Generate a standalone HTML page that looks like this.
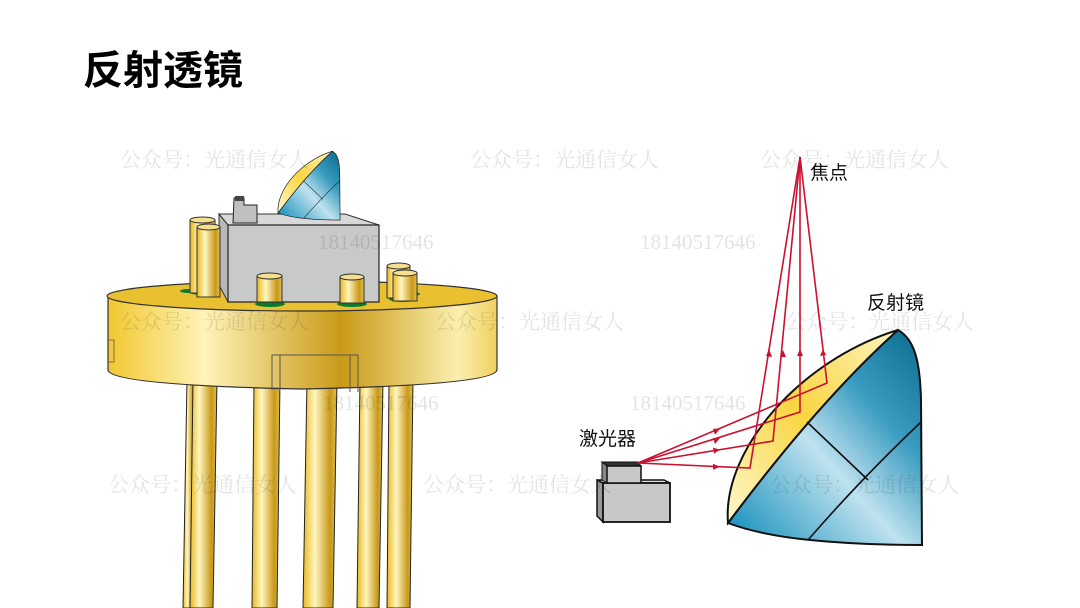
<!DOCTYPE html>
<html><head><meta charset="utf-8"><style>
html,body{margin:0;padding:0;background:#fff;width:1080px;height:608px;overflow:hidden}
svg{display:block}
.wm{font-family:"Liberation Serif","Noto Serif CJK SC",serif;font-size:21px;fill:#000;fill-opacity:0.11}
.lb{font-family:"Liberation Sans","Noto Sans CJK SC",sans-serif;font-size:19px;fill:#111}
</style></head><body>
<svg width="1080" height="608" viewBox="0 0 1080 608" xmlns="http://www.w3.org/2000/svg">
<defs>
<linearGradient id="gold" x1="0" x2="1" y1="0" y2="0">
<stop offset="0" stop-color="#f2c830"/><stop offset="0.25" stop-color="#fff3b8"/><stop offset="0.6" stop-color="#c99a18"/><stop offset="0.9" stop-color="#fbefae"/><stop offset="1" stop-color="#f0d060"/>
</linearGradient>
<linearGradient id="pin" x1="0" x2="1" y1="0" y2="0">
<stop offset="0" stop-color="#e8b820"/><stop offset="0.35" stop-color="#fff6c0"/><stop offset="0.8" stop-color="#c89818"/><stop offset="1" stop-color="#e0c050"/>
</linearGradient>
<linearGradient id="blue" x1="0" y1="1" x2="1" y2="0">
<stop offset="0" stop-color="#0a8ab8"/><stop offset="0.45" stop-color="#bfe2ef"/><stop offset="0.7" stop-color="#3a9cc0"/><stop offset="1" stop-color="#0a6a8c"/>
</linearGradient>
<linearGradient id="rim" x1="0" y1="1" x2="1" y2="0">
<stop offset="0" stop-color="#fff8d0"/><stop offset="0.5" stop-color="#f8d640"/><stop offset="1" stop-color="#fff4c0"/>
</linearGradient>
<g id="mirror">
<path d="M728,523 Q820,400 898,330 C912,338 920,355 921,400 L922,545 Q860,545 810,540 Q760,535 728,523 Z" fill="url(#blue)" stroke="#111" stroke-width="2"/>
<path d="M728,523 C722,450 800,360 898,330 Q820,400 728,523 Z" fill="url(#rim)" stroke="#111" stroke-width="2"/>
<path d="M807,422 L868,480 M921,422 Q860,480 808,540" fill="none" stroke="#111" stroke-width="1.6"/>
</g>
</defs>

<text x="83" y="84" style="font-family:'Liberation Sans','Noto Sans CJK SC',sans-serif;font-size:40px;font-weight:bold" fill="#000">反射透镜</text>

<g stroke="#222" stroke-width="1">
<path d="M187,380 L195,380 L191,608 L183,608 Z" fill="url(#pin)"/>
<path d="M193,380 L217,380 L213,608 L190,608 Z" fill="url(#pin)"/>
<path d="M254,380 L280,380 L277,608 L252,608 Z" fill="url(#pin)"/>
<path d="M307,380 L337,380 L333,608 L303,608 Z" fill="url(#pin)"/>
<path d="M360,380 L383,380 L379,608 L357,608 Z" fill="url(#pin)"/>
<path d="M389,380 L413,380 L410,608 L387,608 Z" fill="url(#pin)"/>
</g>
<path d="M108,297 L108,370 Q110,385 302,389 Q494,385 497,370 L497,297 Z" fill="url(#gold)" stroke="#333" stroke-width="1.2"/>
<ellipse cx="302" cy="296" rx="195" ry="15" fill="#e8c030" stroke="#333" stroke-width="1.2"/>
<path d="M108,340 L114,340 L114,362 L108,362" fill="none" stroke="#555" stroke-width="0.8"/>
<path d="M272,390 L272,355 L358,355 L358,392 M280,355 L280,390 M350,355 L350,392" fill="none" stroke="#555" stroke-width="1"/>
<g fill="#0a7a30">
<ellipse cx="203" cy="292" rx="14" ry="3"/><ellipse cx="270" cy="304" rx="15" ry="3"/><ellipse cx="352" cy="304" rx="15" ry="3"/><ellipse cx="403" cy="299" rx="14" ry="3"/><ellipse cx="188" cy="291" rx="8" ry="2"/><ellipse cx="412" cy="294" rx="8" ry="2"/>
</g>
<g stroke="#333" stroke-width="1">
<rect x="190" y="220" width="25" height="73" fill="url(#pin)"/><ellipse cx="202.5" cy="220" rx="12.5" ry="3" fill="#f6e090"/>
<rect x="387" y="266" width="23" height="32" fill="url(#pin)"/><ellipse cx="398.5" cy="266" rx="11.5" ry="3" fill="#f6e090"/>
</g>
<path d="M219,214 L228,225 L228,302 L219,285 Z" fill="#b8b8b8" stroke="#333"/>
<path d="M219,214 L345,214 L379,225 L228,225 Z" fill="#d8d8d8" stroke="#333"/>
<rect x="228" y="225" width="151" height="77" fill="#c8c9c9" stroke="#222" stroke-width="1.2"/>
<path d="M234,198 L244,198 L244,205 L257,205 L257,223 L233,223 Z" fill="#c0c0c0" stroke="#222"/>
<rect x="235" y="196" width="9" height="5" fill="#444"/>
<g stroke="#333" stroke-width="1">
<rect x="197" y="227" width="23" height="70" fill="url(#pin)"/><ellipse cx="208.5" cy="227" rx="11.5" ry="3" fill="#f6e090"/>
<rect x="257" y="276" width="25" height="26" fill="url(#pin)"/><ellipse cx="269.5" cy="276" rx="12.5" ry="3" fill="#f6e090"/>
<rect x="340" y="277" width="24" height="26" fill="url(#pin)"/><ellipse cx="352" cy="277" rx="12" ry="3" fill="#f6e090"/>
<rect x="393" y="273" width="24" height="28" fill="url(#pin)"/><ellipse cx="405" cy="273" rx="12" ry="3" fill="#f6e090"/>
</g>
<use href="#mirror" transform="translate(278,213) scale(0.32) translate(-728,-523)"/>

<use href="#mirror"/>

<path d="M597,480 L603,483 L603,522 L597,516 Z" fill="#999" stroke="#111" stroke-width="1.5"/>
<path d="M597,480 L664,480 L670,483 L603,483 Z" fill="#ddd" stroke="#111" stroke-width="1.5"/>
<rect x="603" y="483" width="67" height="39" fill="#c8c8c8" stroke="#111" stroke-width="1.8"/>
<path d="M602,462 L638,462 L641,466 L607,466 Z" fill="#333" stroke="#111"/>
<path d="M602,462 L607,466 L607,483 L602,480 Z" fill="#888" stroke="#111"/>
<rect x="607" y="466" width="34" height="17" fill="#c8c8c8" stroke="#111" stroke-width="1.5"/>

<g stroke="#cc1030" stroke-width="1.6" fill="none">
<polyline points="638,463 750,468 800,157"/>
<polyline points="638,463 773,441 800,157"/>
<polyline points="638,463 800,412 800,157"/>
<polyline points="638,463 827,383 800,157"/>
</g>
<g fill="#cc1030">
<path d="M720,466.7 l-7,-3 l0,6 z"/>
<path d="M720,449.6 l-7,-2 l1,6 z"/>
<path d="M720,423 l-7,0 l2,6 z" transform="translate(0,15)"/>
<path d="M720,429.7 l-7,0 l2,6 z" transform="translate(0,-1)"/>
<path d="M769,349 l-3,7 l6,1 z"/>
<path d="M783,350 l-3,7 l6,0 z"/>
<path d="M800,349 l-3,7 l6,0 z"/>
<path d="M823,349 l-3,7 l6,-1 z"/>
</g>

<text class="lb" x="810" y="179">焦点</text>
<text class="lb" x="867" y="309">反射镜</text>
<text class="lb" x="579" y="445">激光器</text>

<text class="wm" x="120" y="167">公众号：光通信女人</text>
<text class="wm" x="470" y="167">公众号：光通信女人</text>
<text class="wm" x="760" y="167">公众号：光通信女人</text>
<text class="wm" x="318" y="249">18140517646</text>
<text class="wm" x="640" y="249">18140517646</text>
<text class="wm" x="120" y="329">公众号：光通信女人</text>
<text class="wm" x="435" y="329">公众号：光通信女人</text>
<text class="wm" x="785" y="329">公众号：光通信女人</text>
<text class="wm" x="323" y="410">18140517646</text>
<text class="wm" x="630" y="410">18140517646</text>
<text class="wm" x="108" y="492">公众号：光通信女人</text>
<text class="wm" x="423" y="492">公众号：光通信女人</text>
<text class="wm" x="770" y="492">公众号：光通信女人</text>
</svg>
</body></html>
